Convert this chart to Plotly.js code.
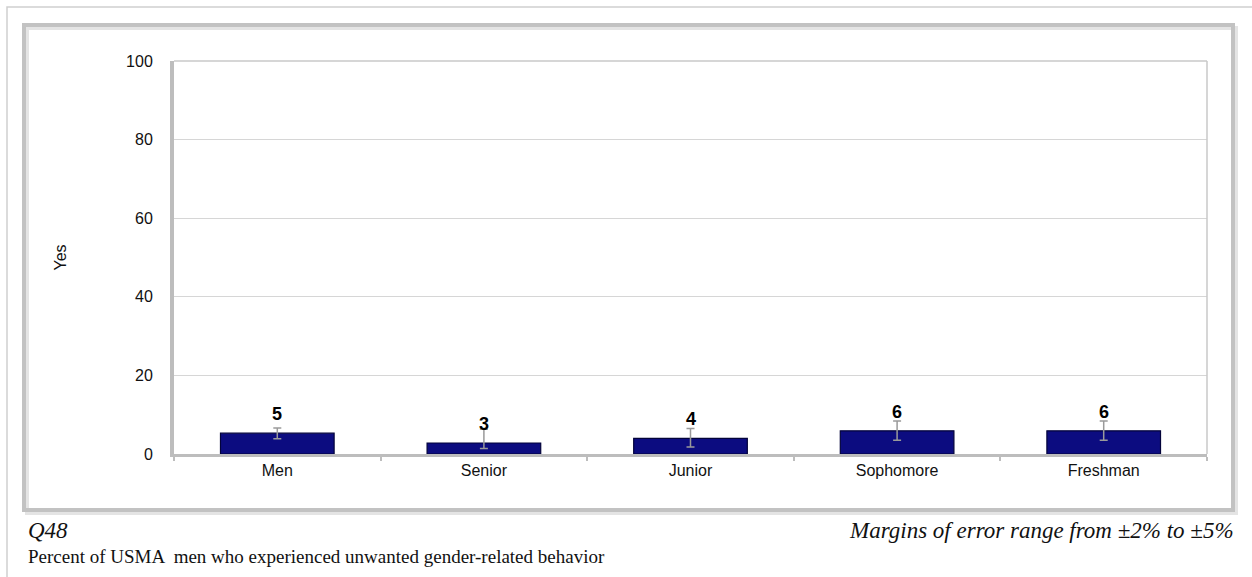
<!DOCTYPE html>
<html>
<head>
<meta charset="utf-8">
<script src="https://cdn.plot.ly/plotly-3.0.1.min.js"></script>
<style>
html,body{margin:0;padding:0;background:#fff;}
#chart{width:1252px;height:577px;}
</style>
</head>
<body>
<div id="chart"></div>
<script>
// ---- data ----
const categories = ["Men", "Senior", "Junior", "Sophomore", "Freshman"];
const values = [5.3, 2.8, 4.0, 5.9, 5.9];
const valueLabels = ["5", "3", "4", "6", "6"];
const errPlus = [1.3, 3.5, 2.5, 2.5, 2.5];
const errMinus = [1.4, 1.4, 2.2, 2.4, 2.4];
const yTicks = [0, 20, 40, 60, 80, 100];
const yTitle = "Yes";
const noteLeft = "Q48";
const noteRight = "Margins of error range from \u00b12% to \u00b15%";
const caption = "Percent of USMA  men who experienced unwanted gender-related behavior";

// ---- layout geometry (pixels) ----
const W = 1252, H = 577;
const PL = 174, PR = 1207, PT = 61, PB = 454;
const pw = PR - PL, ph = PB - PT;
const px = x => (x - PL) / pw;
const py = y => (PB - y) / ph;

const trace = {
  type: "bar",
  x: categories,
  y: values,
  width: 0.55,
  marker: { color: "#0c0c80", line: { color: "#03033a", width: 1.2 } },
  error_y: {
    type: "data", symmetric: false,
    array: errPlus, arrayminus: errMinus,
    color: "#9a9a9a", thickness: 1.5, width: 4
  },
  hoverinfo: "x+y",
  cliponaxis: false
};

const annotations = categories.map((c, i) => ({
  x: c, y: values[i], xref: "x", yref: "y",
  text: "<b>" + valueLabels[i] + "</b>",
  showarrow: false, yanchor: "bottom", yshift: 7,
  font: { family: "Liberation Sans, Arial, sans-serif", size: 18, color: "#000" }
}));

annotations.push(
  { xref: "paper", yref: "paper", x: px(26), y: py(530), xanchor: "left", yanchor: "middle",
    text: "<i>" + noteLeft + "</i>", showarrow: false,
    font: { family: "Liberation Serif, Times New Roman, serif", size: 23, color: "#111" } },
  { xref: "paper", yref: "paper", x: px(1236), y: py(530), xanchor: "right", yanchor: "middle",
    text: "<i>" + noteRight + "</i>", showarrow: false,
    font: { family: "Liberation Serif, Times New Roman, serif", size: 23, color: "#111" } },
  { xref: "paper", yref: "paper", x: px(26), y: py(556), xanchor: "left", yanchor: "middle",
    text: caption, showarrow: false,
    font: { family: "Liberation Serif, Times New Roman, serif", size: 19, color: "#111" } }
);

const shapes = [
  // outer light frame
  { type: "rect", xref: "paper", yref: "paper", x0: px(7), x1: px(1262), y0: py(590), y1: py(7),
    line: { color: "#cfcfcf", width: 1.5 }, layer: "below" },
  // chart frame shadow
  { type: "rect", xref: "paper", yref: "paper", x0: px(27), x1: px(1236), y0: py(513), y1: py(28),
    line: { color: "#e4e4e4", width: 4 }, layer: "below" },
  // chart frame
  { type: "rect", xref: "paper", yref: "paper", x0: px(24), x1: px(1233), y0: py(510), y1: py(25),
    line: { color: "#c2c2c2", width: 4 }, layer: "below" },
  // plot area top and right border
  { type: "line", xref: "paper", yref: "paper", x0: 0, x1: 1, y0: 1, y1: 1,
    line: { color: "#c8c8c8", width: 1.5 } },
  { type: "line", xref: "paper", yref: "paper", x0: 1, x1: 1, y0: 0, y1: 1,
    line: { color: "#c8c8c8", width: 1.5 } }
];

const layout = {
  width: W, height: H,
  margin: { l: PL, r: W - PR, t: PT, b: H - PB, pad: 0 },
  paper_bgcolor: "#fff", plot_bgcolor: "#fff",
  showlegend: false,
  font: { family: "Liberation Sans, Arial, sans-serif", size: 16, color: "#111" },
  xaxis: {
    type: "category",
    showline: true, linecolor: "#bdbdbd", linewidth: 3,
    ticks: "outside", tickson: "boundaries", ticklen: 4, tickcolor: "#bdbdbd", tickwidth: 2,
    tickfont: { size: 16 },
    showgrid: false, zeroline: false, fixedrange: true
  },
  yaxis: {
    range: [0, 100],
    tickvals: yTicks,
    ticktext: yTicks.map(String),
    showline: true, linecolor: "#bdbdbd", linewidth: 4,
    gridcolor: "#d6d6d6", gridwidth: 1,
    zeroline: false, ticks: "", ticklabelstandoff: 14,
    tickfont: { size: 16 },
    title: { text: yTitle, standoff: 56, font: { size: 16 } },
    fixedrange: true
  },
  annotations: annotations,
  shapes: shapes,
  bargap: 0.45
};

Plotly.newPlot("chart", [trace], layout, { displayModeBar: false, staticPlot: true });
</script>
</body>
</html>
